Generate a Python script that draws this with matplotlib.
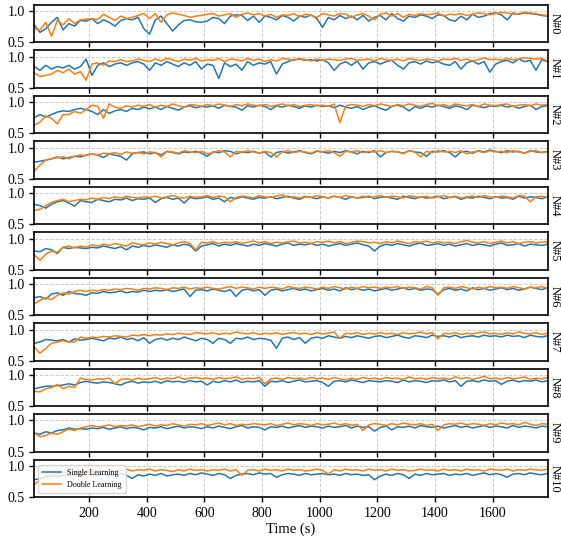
import matplotlib
matplotlib.use("Agg")
import matplotlib.pyplot as plt
import numpy as np

plt.rcParams["font.family"] = ["Liberation Serif", "DejaVu Serif"]
plt.rcParams["font.size"] = 10

# time axis: one sample every 20 s
time_s = np.arange(10, 1791, 20)
node_labels = [f"N#{i}" for i in range(11)]
xticks = [200, 400, 600, 800, 1000, 1200, 1400, 1600]

single = [
    # N#0
    [.78, .66, .72, .82, .90, .70, .80, .76, .85, .84,
     .88, .80, .86, .82, .76, .85, .88, .86, .90, .72,
     .63, .86, .92, .80, .68, .78, .85, .86, .83, .82,
     .84, .90, .88, .80, .92, .94, .93, .85, .92, .82,
     .92, .90, .86, .93, .90, .84, .92, .90, .94, .88,
     .74, .90, .86, .93, .88, .92, .86, .93, .84, .90,
     .93, .86, .96, .88, .84, .92, .90, .94, .92, .88,
     .94, .93, .86, .84, .92, .86, .95, .90, .92, .96,
     .97, .94, .86, .97, .95, .97, .96, .95, .93, .92],
    # N#1
    [.84, .78, .86, .80, .84, .82, .86, .80, .84, .96,
     .70, .86, .90, .84, .88, .90, .86, .90, .92, .88,
     .78, .90, .86, .92, .88, .84, .90, .86, .92, .80,
     .88, .86, .65, .90, .84, .88, .78, .92, .86, .90,
     .88, .92, .72, .88, .92, .95, .96, .94, .95, .93,
     .95, .90, .78, .88, .92, .86, .93, .80, .90, .92,
     .88, .92, .94, .86, .80, .90, .92, .88, .93, .90,
     .92, .88, .86, .92, .80, .90, .93, .88, .92, .75,
     .88, .92, .94, .90, .96, .92, .94, .78, .95, .92],
    # N#2
    [.75, .80, .76, .80, .84, .86, .85, .88, .90, .88,
     .85, .80, .88, .82, .86, .88, .85, .90, .88, .92,
     .89, .92, .88, .93, .90, .87, .92, .94, .91, .93,
     .92, .94, .90, .95, .93, .92, .87, .94, .92, .95,
     .93, .88, .94, .92, .95, .93, .90, .94, .92, .95,
     .93, .94, .91, .95, .92, .90, .93, .88, .92, .94,
     .90, .87, .93, .95, .92, .86, .93, .90, .94, .92,
     .95, .93, .90, .94, .92, .88, .95, .93, .91, .94,
     .93, .95, .92, .94, .90, .93, .95, .88, .93, .94],
    # N#3
    [.77, .78, .80, .82, .85, .82, .84, .86, .85, .88,
     .90, .88, .84, .90, .88, .86, .80, .90, .92, .93,
     .90, .92, .88, .94, .92, .90, .93, .92, .94, .91,
     .86, .93, .92, .95, .94, .90, .93, .92, .94, .91,
     .93, .85, .92, .94, .91, .93, .95, .92, .90, .94,
     .93, .91, .94, .92, .95, .93, .90, .94, .92, .95,
     .85, .92, .94, .93, .91, .95, .93, .92, .86, .94,
     .93, .95, .92, .85, .93, .94, .91, .95, .93, .96,
     .94, .92, .95, .93, .94, .91, .95, .93, .92, .94],
    # N#4
    [.82, .80, .76, .82, .86, .88, .84, .79, .88, .86,
     .85, .90, .88, .86, .90, .89, .92, .88, .91, .90,
     .92, .85, .91, .93, .90, .92, .84, .93, .91, .92,
     .94, .90, .92, .86, .93, .91, .94, .92, .90, .93,
     .92, .94, .91, .93, .95, .92, .90, .94, .93, .91,
     .94, .92, .95, .93, .90, .94, .92, .93, .95, .91,
     .93, .94, .92, .90, .95, .93, .91, .94, .92, .93,
     .95, .91, .93, .94, .90, .93, .92, .95, .93, .91,
     .94, .92, .93, .90, .95, .92, .94, .93, .91, .94],
    # N#5
    [.80, .79, .84, .82, .76, .86, .84, .86, .85, .84,
     .86, .85, .88, .86, .84, .87, .82, .88, .86, .89,
     .87, .90, .88, .86, .90, .88, .91, .89, .80, .88,
     .90, .92, .88, .91, .89, .92, .90, .88, .91, .89,
     .92, .90, .88, .91, .93, .89, .91, .90, .92, .89,
     .91, .88, .90, .92, .89, .91, .93, .90, .88, .80,
     .88, .91, .89, .92, .90, .88, .91, .93, .89, .90,
     .92, .89, .91, .88, .90, .92, .89, .91, .90, .88,
     .91, .93, .89, .90, .92, .88, .91, .90, .89, .91],
    # N#6
    [.78, .80, .76, .84, .86, .82, .88, .85, .84, .82,
     .86, .85, .88, .86, .87, .89, .86, .88, .87, .90,
     .88, .90, .89, .91, .88, .90, .92, .80, .90, .91,
     .89, .92, .90, .88, .91, .80, .90, .92, .89, .91,
     .82, .90, .92, .89, .91, .93, .90, .92, .89, .91,
     .93, .90, .92, .89, .94, .91, .93, .90, .92, .89,
     .91, .93, .90, .92, .94, .91, .93, .90, .92, .91,
     .84, .91, .93, .90, .92, .89, .94, .91, .93, .90,
     .92, .94, .91, .93, .90, .92, .95, .93, .91, .94],
    # N#7
    [.78, .80, .84, .83, .82, .84, .80, .85, .83, .84,
     .86, .84, .82, .86, .85, .88, .84, .86, .82, .87,
     .78, .84, .86, .83, .86, .84, .88, .85, .82, .86,
     .84, .78, .86, .84, .78, .86, .85, .88, .84, .86,
     .85, .83, .70, .86, .88, .84, .87, .78, .86, .88,
     .86, .90, .88, .86, .89, .87, .90, .88, .86, .89,
     .90, .87, .89, .91, .88, .86, .90, .89, .87, .91,
     .89, .90, .88, .91, .87, .89, .90, .88, .91, .89,
     .90, .88, .91, .89, .90, .87, .91, .89, .88, .90],
    # N#8
    [.78, .80, .82, .82, .83, .84, .86, .84, .88, .90,
     .88, .87, .89, .88, .86, .84, .88, .90, .87, .89,
     .88, .90, .87, .91, .89, .90, .88, .91, .89, .90,
     .84, .90, .88, .91, .89, .92, .88, .90, .89, .91,
     .82, .90, .89, .91, .88, .90, .92, .89, .90, .91,
     .88, .82, .90, .91, .89, .92, .90, .88, .91, .90,
     .89, .91, .90, .88, .92, .89, .91, .90, .88, .91,
     .90, .92, .89, .91, .82, .90, .91, .89, .92, .90,
     .91, .85, .90, .92, .89, .91, .90, .92, .89, .91],
    # N#9
    [.80, .78, .82, .80, .84, .85, .88, .86, .87, .86,
     .88, .87, .89, .86, .88, .90, .87, .89, .88, .85,
     .89, .88, .90, .87, .89, .91, .88, .90, .89, .87,
     .90, .88, .91, .89, .87, .90, .92, .88, .90, .89,
     .85, .90, .89, .91, .88, .90, .92, .89, .91, .90,
     .88, .91, .89, .90, .92, .88, .91, .89, .90, .83,
     .89, .91, .85, .90, .89, .91, .88, .92, .90, .89,
     .91, .88, .90, .92, .89, .91, .88, .90, .92, .89,
     .91, .90, .88, .92, .89, .91, .90, .88, .91, .90],
    # N#10
    [.78, .80, .82, .84, .83, .85, .84, .86, .85, .87,
     .86, .85, .87, .84, .86, .88, .85, .80, .86, .84,
     .87, .85, .88, .84, .86, .87, .85, .88, .86, .89,
     .87, .85, .88, .86, .80, .85, .87, .88, .86, .89,
     .87, .88, .82, .86, .88, .87, .85, .88, .86, .87,
     .88, .86, .87, .85, .88, .86, .87, .85, .86, .78,
     .84, .87, .85, .88, .86, .80, .87, .85, .88, .86,
     .87, .88, .85, .87, .86, .88, .85, .87, .89, .86,
     .88, .86, .82, .87, .88, .86, .89, .87, .86, .88],
]

double = [
    # N#0
    [.72, .70, .82, .60, .85, .78, .88, .80, .86, .87,
     .88, .86, .95, .90, .85, .92, .88, .90, .93, .96,
     .88, .96, .82, .94, .97, .95, .93, .90, .92, .93,
     .95, .96, .92, .94, .96, .90, .95, .97, .94, .96,
     .92, .95, .90, .94, .93, .96, .91, .95, .93, .90,
     .96, .94, .92, .96, .95, .90, .94, .96, .92, .86,
     .95, .97, .92, .96, .90, .95, .93, .96, .94, .95,
     .97, .92, .95, .94, .96, .93, .95, .97, .96, .94,
     .96, .98, .97, .95, .96, .98, .97, .96, .94, .93],
    # N#1
    [.74, .68, .70, .72, .78, .74, .80, .72, .76, .62,
     .88, .90, .86, .93, .92, .95, .92, .93, .96, .94,
     .92, .96, .93, .97, .95, .92, .96, .94, .97, .93,
     .95, .94, .97, .92, .96, .95, .93, .97, .94, .96,
     .92, .95, .93, .97, .96, .94, .97, .95, .93, .96,
     .94, .96, .95, .94, .96, .97, .94, .95, .96, .93,
     .97, .95, .94, .96, .93, .97, .95, .94, .96, .95,
     .93, .96, .95, .97, .94, .96, .93, .95, .98, .95,
     .96, .94, .97, .95, .96, .98, .97, .96, .97, .93],
    # N#2
    [.63, .68, .78, .74, .65, .80, .80, .85, .82, .88,
     .95, .93, .74, .97, .92, .90, .94, .92, .95, .93,
     .96, .92, .95, .93, .97, .94, .92, .96, .95, .93,
     .96, .94, .97, .95, .93, .96, .94, .97, .95, .94,
     .96, .93, .95, .97, .94, .96, .93, .95, .96, .94,
     .95, .93, .97, .67, .94, .96, .95, .93, .96, .94,
     .97, .95, .93, .96, .94, .97, .95, .93, .96, .98,
     .94, .96, .93, .97, .95, .94, .96, .93, .97, .95,
     .94, .96, .97, .93, .95, .96, .94, .97, .95, .96],
    # N#3
    [.62, .72, .80, .82, .84, .85, .82, .86, .88, .87,
     .90, .88, .91, .90, .92, .89, .93, .91, .92, .90,
     .93, .92, .85, .94, .93, .91, .95, .93, .92, .94,
     .90, .92, .95, .93, .85, .94, .92, .95, .93, .91,
     .94, .92, .85, .93, .95, .92, .94, .93, .91, .95,
     .93, .95, .92, .86, .94, .93, .95, .92, .94, .93,
     .95, .92, .94, .93, .90, .95, .93, .85, .94, .92,
     .95, .93, .94, .92, .95, .90, .93, .94, .92, .95,
     .93, .94, .92, .95, .93, .91, .94, .95, .92, .93],
    # N#4
    [.72, .74, .80, .85, .88, .90, .86, .88, .90, .89,
     .92, .90, .93, .91, .94, .92, .95, .93, .92, .94,
     .93, .95, .92, .94, .96, .93, .92, .95, .93, .94,
     .96, .93, .95, .94, .86, .93, .95, .94, .92, .96,
     .94, .93, .95, .97, .93, .94, .92, .95, .93, .96,
     .94, .92, .95, .93, .96, .94, .92, .95, .93, .94,
     .96, .93, .95, .94, .92, .96, .94, .93, .95, .92,
     .94, .96, .93, .95, .92, .94, .95, .93, .96, .94,
     .93, .95, .94, .92, .96, .95, .86, .94, .95, .93],
    # N#5
    [.74, .65, .75, .80, .78, .86, .88, .85, .88, .86,
     .90, .88, .91, .89, .92, .90, .88, .93, .91, .90,
     .93, .91, .94, .92, .90, .93, .95, .92, .82, .94,
     .93, .95, .92, .94, .93, .95, .92, .94, .96, .93,
     .95, .92, .94, .93, .95, .96, .93, .94, .92, .95,
     .94, .96, .93, .95, .92, .94, .96, .95, .93, .94,
     .92, .95, .93, .96, .94, .92, .95, .94, .96, .93,
     .95, .93, .94, .92, .95, .97, .94, .93, .95, .92,
     .94, .96, .93, .95, .92, .94, .95, .93, .94, .95],
    # N#6
    [.68, .74, .78, .75, .82, .86, .84, .88, .90, .88,
     .90, .89, .91, .90, .92, .91, .93, .92, .90, .93,
     .92, .94, .93, .91, .94, .93, .95, .92, .94, .93,
     .95, .93, .92, .94, .96, .93, .95, .94, .92, .95,
     .93, .95, .94, .92, .96, .94, .93, .95, .94, .92,
     .95, .93, .96, .94, .92, .95, .93, .96, .94, .95,
     .93, .95, .94, .96, .93, .95, .94, .92, .96, .94,
     .82, .94, .95, .93, .96, .94, .92, .95, .93, .96,
     .94, .95, .93, .96, .94, .92, .95, .94, .96, .93],
    # N#7
    [.72, .62, .70, .78, .80, .82, .80, .80, .88, .86,
     .88, .87, .89, .88, .90, .89, .88, .91, .90, .92,
     .90, .92, .91, .93, .92, .94, .93, .92, .95, .94,
     .93, .95, .92, .94, .93, .96, .94, .93, .95, .92,
     .94, .93, .95, .92, .94, .95, .93, .94, .92, .95,
     .93, .94, .96, .86, .94, .93, .95, .92, .94, .93,
     .95, .93, .94, .92, .95, .93, .94, .96, .93, .95,
     .85, .94, .93, .95, .92, .94, .93, .95, .96, .93,
     .94, .92, .95, .93, .96, .94, .93, .95, .92, .94],
    # N#8
    [.74, .73, .78, .80, .85, .78, .82, .80, .95, .93,
     .92, .94, .93, .95, .86, .93, .94, .92, .95, .93,
     .94, .96, .93, .95, .94, .97, .93, .95, .96, .94,
     .95, .93, .96, .94, .95, .97, .93, .95, .94, .96,
     .86, .94, .95, .93, .96, .94, .95, .93, .96, .94,
     .95, .93, .96, .94, .92, .95, .93, .96, .94, .95,
     .93, .96, .94, .95, .93, .97, .94, .95, .93, .96,
     .94, .95, .93, .97, .94, .96, .93, .95, .98, .94,
     .95, .93, .96, .94, .95, .97, .93, .95, .94, .96],
    # N#9
    [.80, .74, .76, .80, .78, .82, .86, .84, .88, .90,
     .92, .90, .91, .93, .90, .92, .91, .93, .90, .92,
     .94, .91, .93, .92, .95, .93, .91, .94, .93, .95,
     .92, .94, .96, .93, .95, .92, .94, .93, .95, .94,
     .93, .95, .92, .94, .96, .93, .95, .94, .92, .95,
     .93, .94, .96, .93, .95, .92, .94, .84, .93, .95,
     .94, .92, .95, .93, .96, .94, .93, .95, .92, .94,
     .84, .93, .95, .94, .96, .93, .95, .94, .92, .95,
     .93, .96, .94, .95, .93, .97, .94, .92, .95, .94],
    # N#10
    [.70, .78, .84, .86, .88, .90, .89, .91, .90, .92,
     .91, .93, .92, .94, .92, .93, .95, .92, .94, .93,
     .95, .92, .94, .93, .91, .94, .92, .95, .93, .94,
     .92, .94, .93, .95, .92, .94, .85, .93, .94, .92,
     .95, .93, .94, .92, .95, .93, .94, .92, .93, .95,
     .93, .87, .94, .92, .95, .93, .94, .92, .95, .93,
     .94, .92, .95, .93, .94, .92, .93, .95, .93, .94,
     .92, .95, .93, .94, .92, .95, .93, .94, .92, .95,
     .94, .93, .95, .92, .94, .93, .95, .94, .93, .95],
]

for s, d in zip(single, double):
    assert len(s) == len(time_s) and len(d) == len(time_s)

fig, axes = plt.subplots(11, 1, figsize=(5.61, 5.37), dpi=100, sharex=True)
fig.subplots_adjust(left=0.061, right=0.976, top=0.991, bottom=0.074, hspace=0.212)

for ax, label, s, d in zip(axes, node_labels, single, double):
    ax.plot(time_s, s, color="#1f77b4", lw=1.1, label="Single Learning")
    ax.plot(time_s, d, color="#ff7f0e", lw=1.1, label="Double Learning")
    ax.set_xlim(10, 1790)
    ax.set_ylim(0.5, 1.1)
    ax.set_yticks([0.5, 1.0])
    ax.set_xticks(xticks)
    ax.grid(True, ls="--", color="#cccccc", lw=0.7)
    ax.tick_params(direction="out", length=3.5, width=1.0, labelsize=10)
    for sp in ax.spines.values():
        sp.set_linewidth(1.2)
    ax.text(1.002, 0.5, label, transform=ax.transAxes, rotation=-90,
            va="center", ha="left", fontsize=9)

axes[-1].legend(loc="lower left", fontsize=5.8, handlelength=2.3,
                borderpad=0.5, labelspacing=0.5)
axes[-1].set_xlabel("Time (s)", fontsize=10.5, labelpad=2)

fig.savefig("out.png", dpi=100)
